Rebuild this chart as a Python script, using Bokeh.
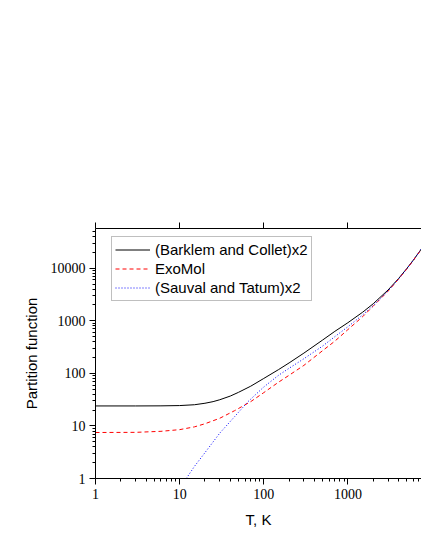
from bokeh.plotting import figure
from bokeh.models import LogAxis, FixedTicker, PrintfTickFormatter, Range1d
from bokeh.embed import file_html
from bokeh.resources import INLINE

# Barklem and Collet (x2)
T_bc = [1, 3, 6, 10, 15, 20, 25, 30, 40, 50, 70, 100, 150, 200, 300, 500, 700,
        1000, 1500, 2000, 3000, 4000, 5000, 6000, 7000, 7500]
Q_bc = [24, 24, 24.1, 24.4, 25.3, 27, 29, 31.5, 37, 43.5, 57, 80, 118, 158, 243,
        430, 630, 920, 1460, 2110, 3850, 6350, 9800, 14300, 20100, 23450]

# ExoMol
T_exo = [1, 3, 6, 10, 15, 20, 30, 45, 70, 100, 150, 200, 300, 500, 700, 1000,
         1500, 2000, 3000, 4000, 5000, 6000, 7000, 7500]
Q_exo = [7.5, 7.55, 7.9, 8.5, 9.6, 11, 14, 19.5, 29, 43, 68, 92, 142, 270, 410,
         680, 1200, 1900, 3650, 6200, 9600, 14100, 19900, 23300]

# Sauval and Tatum (x2)
T_st = [12, 15, 20, 30, 45, 65, 100, 150, 200, 300, 500, 700, 1000, 1500, 2000,
        3000, 4000, 5000, 6000, 7000, 7500]
Q_st = [1.0, 1.7, 3.1, 7.3, 15, 29, 55, 92, 125, 190, 330, 500, 770, 1300, 1950,
        3700, 6250, 9700, 14200, 20000, 23400]

x_ticks = [1, 10, 100, 1000, 10000]
y_ticks = [1, 10, 100, 1000, 10000]
x_minor = [m * d for d in [1, 10, 100, 1000] for m in range(2, 10)]
y_minor = [m * d for d in [1, 10, 100, 1000, 10000] for m in range(2, 10)]

p = figure(width=421, height=545, x_axis_type="log", y_axis_type="log",
           x_range=Range1d(1, 7500), y_range=Range1d(1, 57000),
           output_backend="svg", toolbar_location=None,
           min_border_left=95, min_border_right=0, min_border_top=228,
           min_border_bottom=67)
p.outline_line_color = None
p.xgrid.visible = False
p.ygrid.visible = False
p.background_fill_color = "white"
p.border_fill_color = "white"

p.line(T_bc, Q_bc, line_color="black", line_width=1,
       legend_label="(Barklem and Collet)x2")
p.line(T_exo, Q_exo, line_color="#ff0000", line_width=1, line_dash="4 3",
       legend_label="ExoMol")
p.line(T_st, Q_st, line_color="#0000ff", line_width=1, line_dash="1 2",
       legend_label="(Sauval and Tatum)x2")

for ax, ticks, minor in ((p.xaxis[0], x_ticks, x_minor), (p.yaxis[0], y_ticks, y_minor)):
    ax.ticker = FixedTicker(ticks=ticks, minor_ticks=minor)
    ax.formatter = PrintfTickFormatter(format="%d")
    ax.major_label_text_font = "Liberation Serif"
    ax.major_label_text_font_size = "14px"
    ax.major_label_text_color = "black"
    ax.axis_line_color = "black"
    ax.major_tick_line_color = "black"
    ax.minor_tick_line_color = "black"
    ax.major_tick_in = 0
    ax.minor_tick_in = 0
    ax.major_tick_out = 6
    ax.minor_tick_out = 3
    ax.major_label_standoff = 4
    ax.axis_label_text_font = "Liberation Sans"
    ax.axis_label_text_font_size = "15px"
    ax.axis_label_text_font_style = "normal"
    ax.axis_label_text_color = "black"

p.xaxis[0].axis_label = "T, K"
p.xaxis[0].axis_label_standoff = 9
p.yaxis[0].axis_label = "Partition function"
p.yaxis[0].axis_label_standoff = 8

top = LogAxis(ticker=FixedTicker(ticks=x_ticks, minor_ticks=[]))
top.major_label_text_color = None
top.major_label_text_font_size = "1px"
top.axis_line_color = "black"
top.major_tick_line_color = "black"
top.major_tick_in = 0
top.major_tick_out = 6
top.minor_tick_line_color = None
p.add_layout(top, "above")

lg = p.legend[0]
lg.location = (16, 177)
lg.label_text_font = "Liberation Sans"
lg.label_text_font_size = "15px"
lg.label_text_color = "black"
lg.glyph_width = 35
lg.glyph_height = 19
lg.label_height = 19
lg.label_standoff = 5
lg.spacing = 0
lg.padding = 3
lg.margin = 0
lg.border_line_color = "#808080"
lg.border_line_width = 1
lg.background_fill_color = "white"
lg.background_fill_alpha = 1

open("out.html", "w").write(file_html(p, INLINE))
